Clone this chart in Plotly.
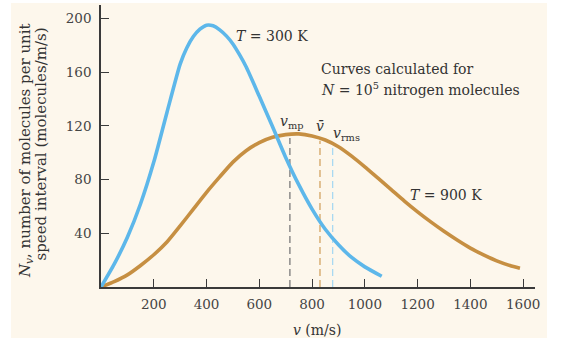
import plotly.graph_objects as go

# ---- data ----
v_300 = [0, 50, 100, 150, 200, 250, 300, 325, 350, 375, 400, 425, 450, 475, 500, 525, 550,
         600, 650, 700, 750, 800, 850, 900, 950, 1000, 1064]
n_300 = [0, 17, 37, 62, 93, 130, 166, 178, 186.5, 192, 195, 194.5, 191.5, 187, 181, 173, 164,
         142, 119.5, 96.5, 76, 58, 43, 31.5, 22, 15, 8]

v_900 = [0, 50, 100, 150, 200, 250, 300, 350, 400, 450, 500, 550, 600, 650, 700, 750, 800, 850, 900,
         950, 1000, 1050, 1100, 1150, 1200, 1250, 1300, 1350, 1400, 1450, 1500, 1550, 1588]
n_900 = [0, 4, 9, 16, 24, 33.5, 45.5, 58, 70.5, 82, 93, 101.5, 107.5, 111.5, 113.5, 114, 112.5, 109.5, 104.5,
         97.5, 89.5, 81, 72.5, 64, 56, 48.5, 41.5, 35, 29, 24, 19.5, 16, 14]

speed_names = ["v_mp", "v_bar", "v_rms"]
speed_values = [716, 830, 878]
speed_tops = [111, 109, 104]

x_ticks = [200, 400, 600, 800, 1000, 1200, 1400, 1600]
y_ticks = [40, 80, 120, 160, 200]

# ---- style ----
BLUE = "#5DB7EA"
ORANGE = "#C68F42"
CREAM = "#FDF7EC"
AXIS = "#3a3a3a"
FONT = "DejaVu Serif"
dash_colors = ["#7a7a7a", "#D3A463", "#A9D9F2"]

W, H = 566, 339
L, R, T, B = 101, 535, 5, 287

def xp(px):
    return (px - L) / (R - L)

def yp(py):
    return (B - py) / (B - T)

fig = go.Figure()

for name, val, top, col in zip(speed_names, speed_values, speed_tops, dash_colors):
    fig.add_trace(go.Scatter(x=[val, val], y=[0, top], mode="lines",
                             line=dict(color=col, width=1.3, dash="7px,4px"),
                             hoverinfo="skip", showlegend=False))

fig.add_trace(go.Scatter(x=v_900, y=n_900, mode="lines",
                         line=dict(color=ORANGE, width=3.6, shape="spline", smoothing=0.6),
                         showlegend=False))
fig.add_trace(go.Scatter(x=v_300, y=n_300, mode="lines",
                         line=dict(color=BLUE, width=3.6, shape="spline", smoothing=0.6),
                         showlegend=False))

fig.update_layout(
    width=W, height=H,
    margin=dict(l=L, r=W - R, t=T, b=H - B),
    paper_bgcolor="white",
    plot_bgcolor="rgba(0,0,0,0)",
    font=dict(family=FONT, size=14, color="#333"),
    shapes=[dict(type="rect", xref="paper", yref="paper",
                 x0=xp(11), x1=xp(547), y0=yp(338), y1=yp(3),
                 fillcolor=CREAM, line=dict(width=0), layer="below")],
)

tickfont = dict(family=FONT, size=13.5, color="#444")
fig.update_xaxes(range=[0, 1645], tickvals=x_ticks, ticktext=[str(t) for t in x_ticks],
                 ticks="inside", ticklen=8, tickwidth=1.3, tickcolor=AXIS,
                 showline=True, linecolor=AXIS, linewidth=1.6, showgrid=False, zeroline=False,
                 ticklabelstandoff=4, tickfont=tickfont)
fig.update_yaxes(range=[0, 210], tickvals=y_ticks, ticktext=[str(t) for t in y_ticks],
                 ticks="inside", ticklen=8, tickwidth=1.3, tickcolor=AXIS,
                 showline=True, linecolor=AXIS, linewidth=1.6, showgrid=False, zeroline=False,
                 ticklabelstandoff=5, tickfont=tickfont)

ann = dict(showarrow=False, xref="paper", yref="paper", xanchor="center", yanchor="middle",
           font=dict(family=FONT, size=14, color="#333"))
ann_left = dict(ann, xanchor="left")

fig.add_annotation(text="<i>T</i> = 300 K", x=xp(272), y=yp(36.5), **ann)
fig.add_annotation(text="<i>T</i> = 900 K", x=xp(446), y=yp(195), **ann)
fig.add_annotation(text="Curves calculated for", x=xp(319), y=yp(69), **ann_left)
fig.add_annotation(text="<i>N</i> = 10<sup>5</sup> nitrogen molecules", x=xp(319), y=yp(88.5), **ann_left)
fig.add_annotation(text="<i>v</i><sub>mp</sub>", x=xp(291), y=yp(122), **ann)
fig.add_annotation(text="<i>v̄</i>", x=xp(320), y=yp(126), **ann)
fig.add_annotation(text="<i>v</i><sub>rms</sub>", x=xp(346), y=yp(134), **ann)
fig.add_annotation(text="<i>v</i> (m/s)", x=xp(317), y=yp(330), **ann)

ytitle = dict(ann, textangle=-90, font=dict(family=FONT, size=15, color="#333"))
fig.add_annotation(text="<i>N<sub>v</sub></i>, number of molecules per unit", x=xp(25), y=yp(151), **ytitle)
fig.add_annotation(text="speed interval (molecules/m/s)", x=xp(40.5), y=yp(144), **ytitle)

fig.write_html("out.html")
